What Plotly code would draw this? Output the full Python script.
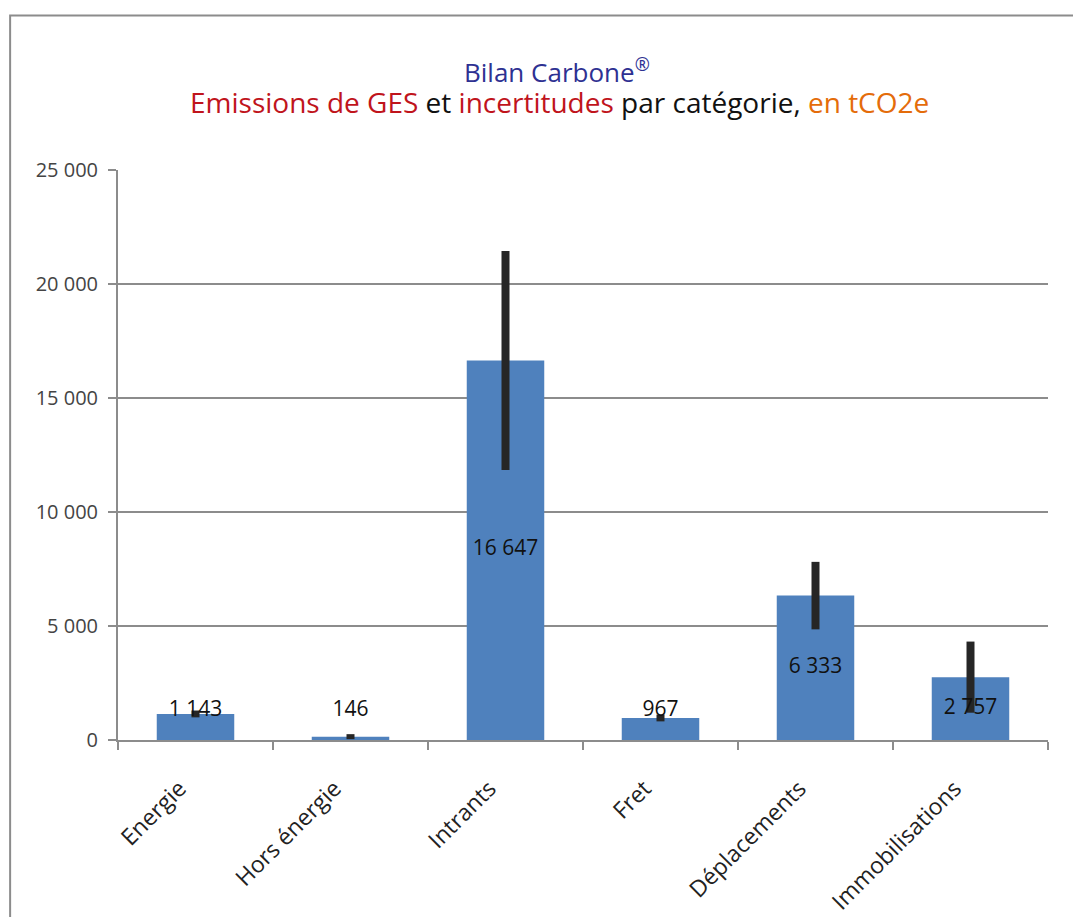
import numpy as np
import plotly.graph_objects as go

categories = ["Energie", "Hors énergie", "Intrants", "Fret", "Déplacements", "Immobilisations"]
emissions = [1143, 146, 16647, 967, 6333, 2757]
incertitudes = [150, 110, 4800, 150, 1480, 1560]
labels = ["1 143", "146", "16 647", "967", "6 333", "2 757"]
y_ticks = [0, 5000, 10000, 15000, 20000, 25000]
y_tick_text = ["0", "5 000", "10 000", "15 000", "20 000", "25 000"]

FONT = "Open Sans"

fig = go.Figure()
fig.add_trace(go.Bar(
    x=categories, y=emissions,
    marker=dict(color="#4f81bd", line=dict(width=0)),
    width=0.5,
    error_y=dict(type="data", array=incertitudes, visible=True,
                 color="#262626", thickness=8, width=0),
    hoverinfo="x+y",
))
label_y = np.maximum(np.array(emissions) / 2.0, 1270)
fig.add_trace(go.Scatter(
    x=categories, y=label_y, mode="text", text=labels,
    textposition="middle center",
    textfont=dict(family=FONT, size=21, color="#111111"),
    hoverinfo="skip",
))

fig.update_layout(
    width=1081, height=917,
    margin=dict(l=110, r=41, t=162, b=185, autoexpand=False),
    paper_bgcolor="white", plot_bgcolor="white",
    showlegend=False,
    bargap=0.5,
    xaxis=dict(
        type="category", automargin=False,
        showline=True, linecolor="#8c8c8c", linewidth=2,
        ticks="outside", tickson="boundaries", ticklen=8, tickcolor="#8c8c8c", tickwidth=2,
        tickangle=-45,
        ticklabelstandoff=24, ticklabelshift=-16,
        tickfont=dict(family=FONT, size=23, color="#222222"),
        showgrid=False,
    ),
    yaxis=dict(
        range=[0, 25000], automargin=False,
        tickvals=y_ticks, ticktext=y_tick_text,
        showline=True, linecolor="#8c8c8c", linewidth=2,
        ticks="outside", ticklen=8, tickcolor="#8c8c8c", tickwidth=2,
        ticklabelstandoff=6,
        showgrid=True, gridcolor="#8c8c8c", gridwidth=1.5,
        zeroline=False,
        tickfont=dict(family=FONT, size=20, color="#444444"),
    ),
    shapes=[dict(type="rect", xref="paper", yref="paper",
                 x0=-0.116, x1=1.06, y0=-0.33, y1=1.271,
                 line=dict(color="#8c8c8c", width=2), fillcolor="rgba(0,0,0,0)",
                 layer="below")],
    annotations=[
        dict(text="Bilan Carbone<sup>®</sup>", xref="paper", yref="paper",
             x=0.472, y=1.174, showarrow=False, xanchor="center", yanchor="middle",
             font=dict(family=FONT, size=26, color="#2e3192")),
        dict(text=("<span style='color:#c0141c'>Emissions de GES</span>"
                   "<span style='color:#111111'> et </span>"
                   "<span style='color:#c0141c'>incertitudes</span>"
                   "<span style='color:#111111'> par catégorie, </span>"
                   "<span style='color:#e46c0a'>en tCO2e</span>"),
             xref="paper", yref="paper",
             x=0.475, y=1.120, showarrow=False, xanchor="center", yanchor="middle",
             font=dict(family=FONT, size=28)),
    ],
)

fig.write_html("out.html")
